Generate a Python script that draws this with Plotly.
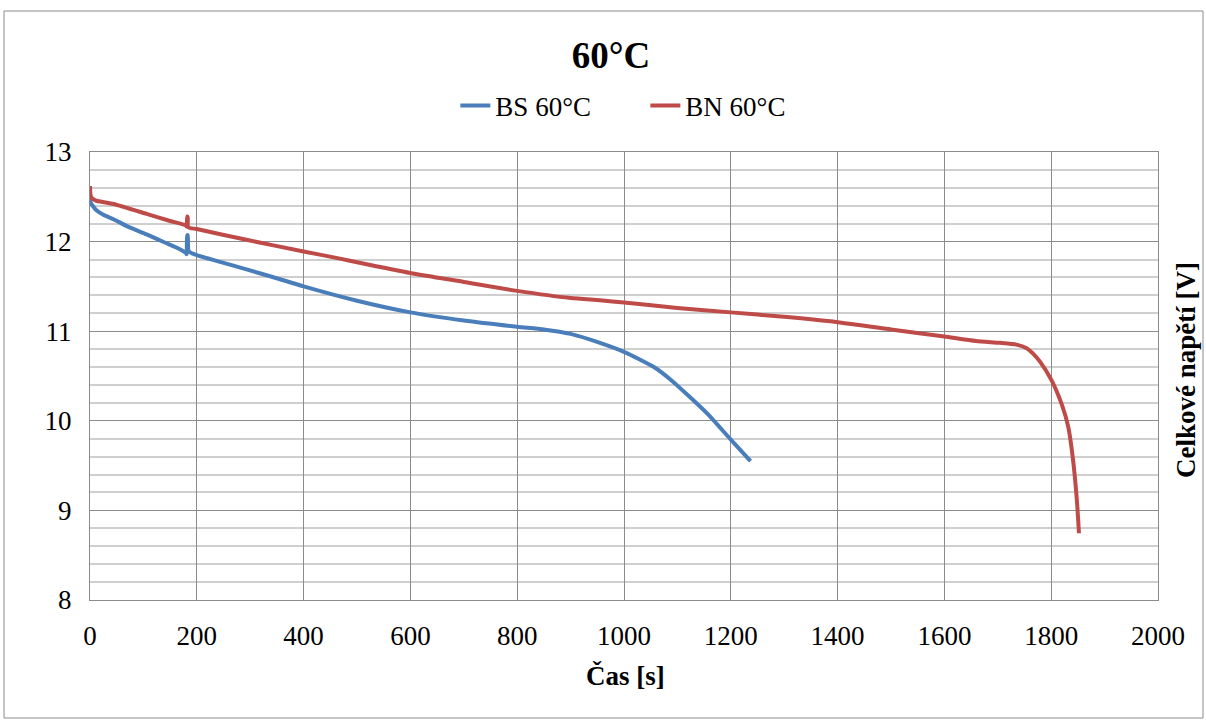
import plotly.graph_objects as go

# ---- data ----
bs_time = [0, 1, 5, 12, 25, 44, 70, 106, 140, 170, 180, 181, 182, 183, 185, 200, 240,
           293, 356, 400, 500, 600, 700, 800, 850, 900, 955, 1000, 1056, 1089, 1156, 1200, 1237]
bs_volt = [12.48, 12.44, 12.40, 12.35, 12.30, 12.25, 12.17, 12.08, 11.99, 11.91, 11.87, 11.86,
           12.07, 12.07, 11.89, 11.85, 11.78, 11.69, 11.58, 11.50, 11.34, 11.21, 11.12, 11.05,
           11.02, 10.97, 10.87, 10.77, 10.60, 10.45, 10.08, 9.79, 9.55]

bn_time = [0, 1, 3, 10, 44, 106, 150, 180, 181, 182, 183, 184, 200, 293, 400, 468, 500, 600,
           700, 800, 900, 955, 1000, 1100, 1200, 1300, 1400, 1500, 1600, 1659, 1704, 1735,
           1754, 1766, 1779, 1800, 1820, 1832, 1841, 1848, 1852]
bn_volt = [12.62, 12.52, 12.49, 12.46, 12.42, 12.31, 12.23, 12.18, 12.17, 12.28, 12.27, 12.16,
           12.14, 12.02, 11.89, 11.81, 11.77, 11.65, 11.55, 11.45, 11.37, 11.345, 11.32, 11.26,
           11.21, 11.16, 11.10, 11.02, 10.94, 10.89, 10.87, 10.85, 10.81, 10.75, 10.66, 10.46,
           10.18, 9.93, 9.56, 9.12, 8.745]

series_names = ["BS 60°C", "BN 60°C"]
title_text = "60°C"
x_title = "Čas [s]"
y_title = "Celkové napětí [V]"

FONT = "Liberation Serif, Times New Roman, serif"

fig = go.Figure()
fig.add_trace(go.Scatter(x=bs_time, y=bs_volt, mode="lines", name=series_names[0],
                         line=dict(color="#4A7EBB", width=4, shape="spline", smoothing=0.6)))
fig.add_trace(go.Scatter(x=bn_time, y=bn_volt, mode="lines", name=series_names[1],
                         line=dict(color="#BE4B48", width=4, shape="spline", smoothing=0.6)))

fig.update_layout(
    width=1206, height=720,
    margin=dict(l=90, r=48, t=152, b=120),
    paper_bgcolor="white", plot_bgcolor="white",
    font=dict(family=FONT, size=27, color="black"),
    title=dict(text="<b>" + title_text + "</b>", x=611 / 1206, xanchor="center",
               y=1 - 55 / 720, yanchor="middle", font=dict(size=37)),
    legend=dict(orientation="h", x=0.520, xanchor="center", y=1.103, yanchor="middle",
                entrywidth=145, entrywidthmode="pixels", font=dict(size=27),
                bgcolor="rgba(0,0,0,0)"),
    showlegend=True,
)

fig.update_xaxes(range=[0, 2000], dtick=200, tick0=0, showgrid=True, gridcolor="#8c8c8c",
                 gridwidth=1, showline=True, linecolor="#8c8c8c", mirror=True,
                 zeroline=False, ticks="", ticklabelstandoff=12,
                 tickfont=dict(size=27, family=FONT))
fig.update_yaxes(range=[8, 13], dtick=1, tick0=8, showgrid=True, gridcolor="#8c8c8c",
                 gridwidth=1, showline=True, linecolor="#8c8c8c", mirror=True,
                 zeroline=False, ticks="", ticklabelstandoff=12,
                 tickfont=dict(size=27, family=FONT),
                 minor=dict(dtick=0.2, showgrid=True, gridcolor="#cfcfcf", gridwidth=1.5))

fig.add_annotation(text="<b>" + x_title + "</b>", xref="paper", yref="paper",
                   x=0.501, y=-0.17, xanchor="center", yanchor="middle",
                   showarrow=False, font=dict(size=27, family=FONT))
fig.add_annotation(text="<b>" + y_title + "</b>", xref="paper", yref="paper",
                   x=1.026, y=0.513, xanchor="center", yanchor="middle", textangle=-90,
                   showarrow=False, font=dict(size=27, family=FONT))

fig.add_shape(type="rect", xref="paper", yref="paper",
              x0=(4 - 90) / 1068, x1=(1203 - 90) / 1068,
              y0=(600 - 718) / 448, y1=(600 - 11) / 448,
              line=dict(color="#8c8c8c", width=1), fillcolor="rgba(0,0,0,0)", layer="below")

fig.write_html("out.html")
